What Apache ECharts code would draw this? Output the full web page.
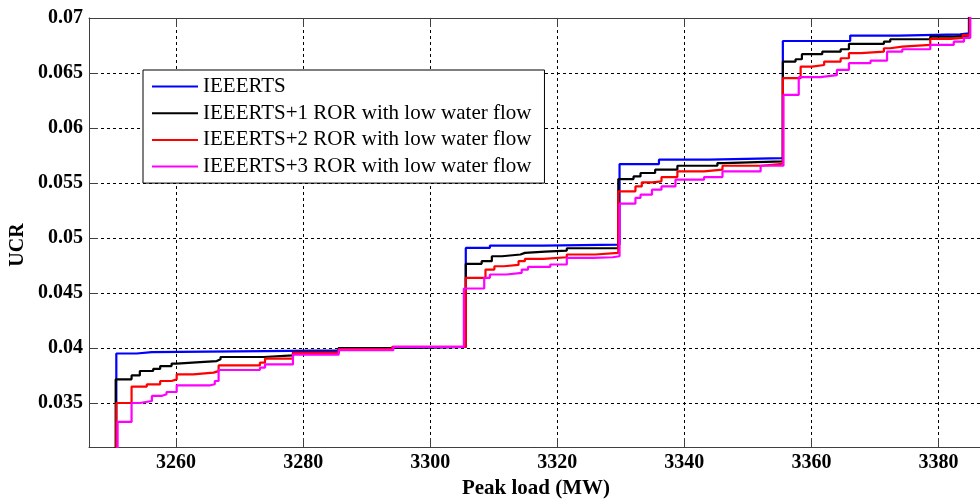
<!DOCTYPE html>
<html>
<head>
<meta charset="utf-8">
<script src="https://cdn.jsdelivr.net/npm/echarts@6/dist/echarts.min.js"></script>
<style>
  html, body { margin: 0; padding: 0; background: #fff; }
</style>
</head>
<body>
<div id="main" style="width:980px;height:499px;"></div>
<script>
// step points: [peak load where level starts, UCR]
var ieeerts = [
  [3250, 0.029], [3250.6, 0.0395], [3253.8, 0.03963], [3256.2, 0.03972], [3274.0, 0.03978],
  [3285.6, 0.0400], [3295.0, 0.0401], [3305.6, 0.0491], [3309.4, 0.04931], [3317.8, 0.0494],
  [3329.8, 0.05672], [3336.0, 0.05712], [3343.9, 0.05727], [3355.5, 0.06791], [3366.1, 0.0684],
  [3373.7, 0.06852], [3383.4, 0.06861], [3384.8, 0.0715]
];
var ror1 = [
  [3250, 0.029], [3250.5, 0.03715], [3253.0, 0.03751], [3254.3, 0.03791], [3256.4, 0.0381],
  [3257.5, 0.03836], [3259.3, 0.03858], [3260.1, 0.03872], [3263.8, 0.03881], [3266.4, 0.03897],
  [3267.0, 0.03918], [3273.8, 0.03933], [3278.4, 0.0396], [3285.6, 0.0400], [3295.0, 0.0401],
  [3305.6, 0.04765], [3308.1, 0.04789], [3309.7, 0.04834], [3311.3, 0.0485], [3314.2, 0.04865],
  [3314.9, 0.04877], [3318.1, 0.04886], [3321.5, 0.04907], [3329.6, 0.05536], [3332.0, 0.0556],
  [3333.1, 0.05591], [3335.4, 0.05621], [3338.9, 0.05657], [3345.2, 0.05681], [3346.2, 0.05696],
  [3355.5, 0.06604], [3357.5, 0.06625], [3358.5, 0.06671], [3361.7, 0.06694], [3364.6, 0.06716],
  [3365.9, 0.06764], [3371.4, 0.06785], [3372.4, 0.06807], [3378.7, 0.0683], [3382.4, 0.0684],
  [3384.8, 0.0715]
];
var ror2 = [
  [3250, 0.029], [3250.6, 0.0350], [3253.0, 0.03649], [3255.4, 0.0367], [3257.5, 0.0370],
  [3259.3, 0.03715], [3260.1, 0.03761], [3262.7, 0.03776], [3265.9, 0.0379], [3266.7, 0.03842],
  [3273.2, 0.03867], [3274.0, 0.03903], [3278.4, 0.03955], [3285.6, 0.0399], [3294.0, 0.0401],
  [3305.6, 0.04638], [3308.7, 0.04713], [3310.1, 0.04743], [3311.6, 0.04755], [3313.9, 0.04789],
  [3314.9, 0.0481], [3317.8, 0.04825], [3321.5, 0.0485], [3326.0, 0.04865], [3329.6, 0.05424],
  [3332.3, 0.05469], [3333.3, 0.05506], [3335.0, 0.05515], [3336.4, 0.05554], [3338.9, 0.05605],
  [3343.1, 0.05621], [3346.0, 0.05657], [3352.0, 0.05675], [3355.5, 0.06453], [3358.3, 0.06558],
  [3360.1, 0.06573], [3362.0, 0.06604], [3364.6, 0.06634], [3365.9, 0.0668], [3367.8, 0.06694],
  [3371.4, 0.06725], [3372.4, 0.0674], [3374.3, 0.06755], [3378.7, 0.0681], [3381.9, 0.0682],
  [3383.8, 0.06845], [3384.9, 0.0715]
];
var ror3 = [
  [3250, 0.029], [3250.8, 0.03328], [3253.0, 0.0350], [3254.3, 0.03518], [3256.2, 0.03564],
  [3257.7, 0.03579], [3258.5, 0.036], [3260.1, 0.03661], [3265.4, 0.0367], [3266.1, 0.0370],
  [3266.7, 0.038], [3273.2, 0.03821], [3274.0, 0.03851], [3278.4, 0.0394], [3285.6, 0.0398],
  [3294.2, 0.0401], [3305.3, 0.04541], [3308.5, 0.04638], [3309.4, 0.04668], [3312.0, 0.04683],
  [3314.4, 0.04713], [3315.4, 0.04738], [3318.9, 0.04759], [3321.5, 0.04819], [3325.7, 0.04825],
  [3328.7, 0.04834], [3329.8, 0.05312], [3332.3, 0.05364], [3333.1, 0.05394], [3334.9, 0.05439],
  [3336.4, 0.05469], [3338.6, 0.0553], [3343.1, 0.05554], [3346.0, 0.05605], [3352.0, 0.05657],
  [3355.6, 0.06301], [3358.0, 0.06462], [3361.4, 0.0648], [3364.0, 0.06528], [3365.9, 0.06589],
  [3369.3, 0.06612], [3371.9, 0.06694], [3374.3, 0.06716], [3378.7, 0.06755], [3382.4, 0.06785],
  [3384.0, 0.0682], [3385.0, 0.0715]
];
var seriesNames = [
  "IEEERTS",
  "IEEERTS+1 ROR with low water flow",
  "IEEERTS+2 ROR with low water flow",
  "IEEERTS+3 ROR with low water flow"
];
var seriesColors = ["#0000ff", "#000000", "#ff0000", "#ff00ff"];
var seriesData = [ieeerts, ror1, ror2, ror3];

var serif = '"Liberation Serif", "Times New Roman", serif';
var myChart = echarts.init(document.getElementById("main"), null, { renderer: "canvas" });

var gridDash = { color: "#000", width: 1, type: [3, 3] };

var option = {
  backgroundColor: "#fff",
  animation: false,
  grid: { left: 89, top: 18, right: -3, bottom: 52, containLabel: false, outerBoundsMode: "none" },
  legend: {
    orient: "vertical",
    left: 143,
    top: 70,
    icon: "rect",
    itemWidth: 46,
    itemHeight: 2,
    itemGap: 5.7,
    padding: [6, 13, 6, 9],
    backgroundColor: "#fff",
    borderColor: "#000",
    borderWidth: 1,
    borderRadius: 0,
    textStyle: { fontFamily: serif, fontSize: 21, color: "#000", lineHeight: 21 },
    data: seriesNames
  },
  xAxis: [
    {
      type: "value",
      min: 3246.3,
      max: 3387,
      splitNumber: 7,
      name: "Peak load (MW)",
      nameLocation: "middle",
      nameGap: 29,
      nameTextStyle: { fontFamily: serif, fontSize: 21, fontWeight: "bold", color: "#000" },
      axisLine: { show: true, lineStyle: { color: "#404040", width: 1 } },
      axisTick: { show: true, inside: true, length: 9, lineStyle: { color: "#404040" } },
      axisLabel: {
        showMinLabel: false, showMaxLabel: false, margin: 6,
        fontFamily: serif, fontSize: 20, fontWeight: "bold", color: "#000",
        formatter: function (v) { return String(v); }
      },
      splitLine: { show: true, lineStyle: gridDash }
    },
    {
      type: "value",
      position: "top",
      min: 3246.3,
      max: 3387,
      splitNumber: 7,
      axisLine: { show: true, lineStyle: { color: "#404040", width: 1 } },
      axisTick: { show: true, inside: true, length: 9, lineStyle: { color: "#404040" } },
      axisLabel: { show: false },
      splitLine: { show: false }
    }
  ],
  yAxis: {
    type: "value",
    min: 0.031,
    max: 0.07,
    splitNumber: 8,
    axisLine: { show: true, lineStyle: { color: "#404040", width: 1 } },
    axisTick: { show: true, inside: true, length: 9, lineStyle: { color: "#404040" } },
    axisLabel: {
      showMinLabel: false, margin: 6,
      fontFamily: serif, fontSize: 20, fontWeight: "bold", color: "#000"
    },
    splitLine: { show: true, lineStyle: gridDash }
  },
  graphic: [
    {
      type: "text",
      x: 18,
      y: 245,
      rotation: Math.PI / 2,
      style: {
        text: "UCR",
        font: "bold 20px " + serif,
        fill: "#000",
        textAlign: "center",
        textVerticalAlign: "middle"
      }
    }
  ],
  series: seriesNames.map(function (name, i) {
    return {
      name: name,
      type: "line",
      step: "end",
      xAxisIndex: 0,
      symbol: "none",
      clip: true,
      color: seriesColors[i],
      lineStyle: { width: 2.2, color: seriesColors[i] },
      data: seriesData[i]
    };
  })
};
myChart.setOption(option);
</script>
</body>
</html>
